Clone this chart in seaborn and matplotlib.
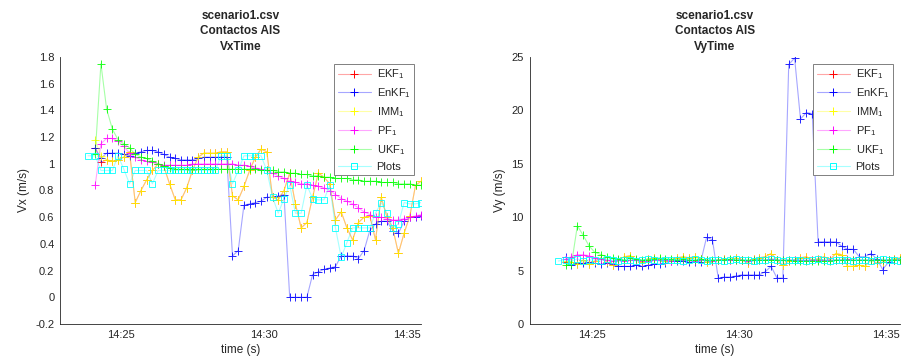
import matplotlib
matplotlib.use("Agg")
import matplotlib.pyplot as plt
import seaborn as sns
import pandas as pd
from matplotlib.lines import Line2D

# ---------------- data ----------------
# time in minutes after 14:00
time_min = [24.1, 24.3, 24.5, 24.7, 24.9, 25.1, 25.3, 25.5, 25.7, 25.9,
            26.1, 26.3, 26.5, 26.7, 26.9, 27.1, 27.3, 27.5, 27.7, 27.9,
            28.1, 28.3, 28.5, 28.7, 28.9, 29.1, 29.3, 29.5, 29.7, 29.9,
            30.1, 30.3, 30.5, 30.7, 30.9, 31.1, 31.3, 31.5, 31.7, 31.9,
            32.1, 32.3, 32.5, 32.7, 32.9, 33.1, 33.3, 33.5, 33.7, 33.9,
            34.1, 34.3, 34.5, 34.7, 34.9, 35.1, 35.3, 35.5]
plots_time_min = [23.85] + time_min

series_names = ["EKF$_1$", "EnKF$_1$", "IMM$_1$", "PF$_1$", "UKF$_1$", "Plots"]
series_colors = ["#ff0000", "#0000ff", "#ffff00", "#ff00ff", "#00ff00", "#00ffff"]

# Vx (m/s)
vx_ekf = [1.12, 1.01, 1.03, 1.02, 1.03, 1.05, 1.09, 0.71, 0.80, 0.88,
          0.95, 1.00, 0.98, 0.85, 0.73, 0.73, 0.82, 0.95, 1.05, 1.08,
          1.08, 1.08, 1.09, 1.09, 0.76, 0.73, 0.83, 0.95, 1.05, 1.11,
          1.09, 0.75, 0.73, 0.80, 0.93, 0.70, 0.52, 0.56, 0.75, 0.93,
          0.90, 0.85, 0.58, 0.64, 0.52, 0.43, 0.56, 0.60, 0.61, 0.43,
          0.75, 0.60, 0.52, 0.33, 0.48, 0.61, 0.84, 0.87]
vx_enkf = [1.12, 1.04, 1.08, 1.08, 1.08, 1.07, 1.06, 1.08, 1.09, 1.10,
           1.10, 1.09, 1.07, 1.05, 1.04, 1.03, 1.03, 1.03, 1.04, 1.05,
           1.05, 1.05, 1.05, 1.05, 0.31, 0.35, 0.69, 0.70, 0.71, 0.72,
           0.75, 0.75, 0.76, 0.77, 0.00, 0.00, 0.00, 0.00, 0.17, 0.19,
           0.21, 0.22, 0.23, 0.31, 0.31, 0.31, 0.29, 0.35, 0.50, 0.55,
           0.57, 0.57, 0.50, 0.48, 0.57, 0.60, 0.60, 0.61]
vx_imm = [1.18, 1.06, 1.03, 1.02, 1.03, 1.05, 1.09, 0.71, 0.80, 0.88,
          0.95, 1.00, 0.98, 0.85, 0.73, 0.73, 0.82, 0.95, 1.05, 1.08,
          1.08, 1.08, 1.09, 1.09, 0.76, 0.73, 0.83, 0.95, 1.05, 1.11,
          1.09, 0.75, 0.73, 0.80, 0.93, 0.70, 0.52, 0.56, 0.75, 0.93,
          0.90, 0.85, 0.58, 0.64, 0.52, 0.43, 0.56, 0.60, 0.61, 0.43,
          0.75, 0.60, 0.52, 0.33, 0.48, 0.61, 0.84, 0.87]
vx_pf = [0.84, 1.15, 1.19, 1.19, 1.17, 1.13, 1.08, 1.05, 1.03, 1.02,
         1.01, 1.00, 0.99, 0.99, 0.99, 0.99, 0.99, 1.00, 1.00, 1.00,
         1.00, 1.00, 1.00, 1.00, 1.00, 0.99, 0.99, 0.98, 0.97, 0.96,
         0.95, 0.93, 0.91, 0.89, 0.87, 0.86, 0.85, 0.85, 0.84, 0.83,
         0.82, 0.80, 0.77, 0.74, 0.72, 0.70, 0.67, 0.64, 0.62, 0.60,
         0.60, 0.59, 0.58, 0.58, 0.59, 0.60, 0.61, 0.62]
vx_ukf = [1.07, 1.75, 1.41, 1.26, 1.18, 1.15, 1.12, 1.07, 1.05, 1.04,
          1.02, 1.00, 0.98, 0.97, 0.96, 0.96, 0.96, 0.96, 0.96, 0.96,
          0.96, 0.96, 0.96, 0.96, 0.96, 0.96, 0.96, 0.96, 0.96, 0.95,
          0.95, 0.95, 0.94, 0.94, 0.93, 0.93, 0.92, 0.92, 0.91, 0.91,
          0.90, 0.90, 0.89, 0.89, 0.89, 0.88, 0.88, 0.87, 0.87, 0.87,
          0.86, 0.86, 0.86, 0.85, 0.85, 0.85, 0.84, 0.84]
vx_plots = [1.06,
            1.06, 0.95, 0.95, 0.95, 1.06, 0.96, 0.85, 0.95, 0.95, 0.95,
            0.85, 0.95, 0.95, 0.95, 0.95, 0.95, 0.95, 0.95, 0.95, 0.95,
            0.95, 0.95, 1.06, 1.06, 0.85, 0.95, 1.06, 1.06, 1.06, 1.06,
            0.95, 0.75, 0.63, 0.74, 0.84, 0.63, 0.63, 0.84, 0.74, 0.73,
            0.73, 0.84, 0.52, 0.30, 0.41, 0.52, 0.52, 0.52, 0.52, 0.63,
            0.71, 0.63, 0.52, 0.55, 0.71, 0.70, 0.70, 0.71]

# Vy (m/s)
vy_ekf = [5.8, 5.8, 5.6, 6.0, 5.6, 5.9, 6.2, 5.8, 5.5, 6.0,
          6.3, 6.4, 6.0, 5.8, 6.1, 6.2, 6.1, 5.9, 6.0, 6.2,
          6.3, 6.2, 6.3, 6.1, 5.8, 5.9, 6.0, 6.1, 6.0, 6.2,
          6.0, 5.7, 6.1, 6.2, 6.3, 6.6, 6.0, 5.5, 5.9, 6.0,
          6.2, 6.3, 6.0, 6.1, 6.3, 6.0, 6.6, 6.5, 5.4, 5.4,
          5.5, 5.4, 6.0, 5.7, 5.8, 6.0, 6.1, 6.2]
vy_enkf = [6.3, 5.5, 5.7, 5.7, 5.8, 5.7, 5.6, 5.7, 5.6, 5.4,
           5.4, 5.4, 5.5, 5.4, 5.5, 5.6, 5.6, 5.7, 5.9, 5.9,
           5.9, 5.8, 5.8, 5.8, 8.1, 7.9, 4.3, 4.4, 4.4, 4.5,
           4.6, 4.6, 4.6, 4.6, 4.9, 5.4, 4.3, 4.3, 24.3, 24.9,
           19.2, 19.8, 19.7, 7.7, 7.7, 7.7, 7.7, 7.3, 7.0, 7.0,
           6.3, 6.3, 6.6, 6.1, 5.1, 5.8, 6.0, 6.0]
vy_imm = [5.9, 5.8, 5.6, 6.0, 5.6, 5.9, 6.2, 5.8, 5.5, 6.0,
          6.3, 6.4, 6.0, 5.8, 6.1, 6.2, 6.1, 5.9, 6.0, 6.2,
          6.3, 6.2, 6.3, 6.1, 5.8, 5.9, 6.0, 6.1, 6.0, 6.2,
          6.0, 5.7, 6.1, 6.2, 6.3, 6.6, 6.0, 5.5, 5.9, 6.0,
          6.2, 6.3, 6.0, 6.1, 6.3, 6.0, 6.6, 6.5, 5.4, 5.4,
          5.5, 5.4, 6.0, 5.7, 5.8, 6.0, 6.1, 6.2]
vy_pf = [6.1, 6.3, 6.5, 6.5, 6.4, 6.2, 6.1, 6.0, 5.9, 6.0,
         5.9, 6.0, 6.0, 5.9, 5.9, 6.0, 6.0, 6.0, 5.9, 6.0,
         6.0, 6.0, 5.9, 6.0, 6.0, 5.9, 6.0, 6.0, 6.0, 6.0,
         6.0, 5.9, 6.0, 6.0, 6.0, 6.1, 6.0, 6.0, 6.0, 6.0,
         6.0, 6.0, 6.0, 6.0, 6.0, 6.0, 6.0, 6.0, 6.1, 6.0,
         6.0, 6.0, 6.0, 6.0, 6.0, 6.0, 6.0, 6.0]
vy_ukf = [5.5, 5.6, 9.2, 8.3, 7.3, 6.7, 6.5, 6.3, 6.2, 6.1,
          6.0, 6.2, 6.1, 6.0, 6.0, 6.1, 6.2, 6.1, 6.1, 6.0,
          6.1, 6.0, 6.0, 6.1, 6.0, 6.0, 6.0, 6.0, 6.1, 6.0,
          6.0, 6.0, 6.0, 6.0, 6.0, 6.0, 6.0, 6.0, 6.0, 5.9,
          5.9, 5.9, 5.9, 5.9, 5.9, 5.9, 6.0, 6.0, 6.0, 6.0,
          6.0, 6.0, 6.0, 6.0, 6.0, 6.0, 6.0, 6.0]
vy_plots = [5.9,
            6.0, 5.9, 6.1, 5.9, 6.0, 6.0, 5.9, 6.1, 6.0, 5.9,
            6.0, 6.0, 5.9, 6.0, 6.1, 6.0, 5.9, 6.0, 6.0, 6.0,
            5.9, 6.0, 6.1, 6.0, 5.9, 6.0, 6.0, 5.9, 6.0, 6.1,
            6.0, 6.0, 5.9, 6.0, 6.0, 6.1, 6.0, 5.9, 6.0, 6.0,
            6.0, 5.9, 6.0, 6.1, 6.0, 5.9, 6.0, 6.0, 6.0, 5.9,
            6.0, 6.0, 5.9, 6.0, 6.1, 6.0, 6.0, 5.9]

x_tick_pos = [25, 30, 35]
x_tick_labels = ["14:25", "14:30", "14:35"]
vx_ticks = [-0.2, 0, 0.2, 0.4, 0.6, 0.8, 1.0, 1.2, 1.4, 1.6, 1.8]
vx_tick_labels = ["-0.2", "0", "0.2", "0.4", "0.6", "0.8", "1", "1.2", "1.4", "1.6", "1.8"]
vy_ticks = [0, 5, 10, 15, 20, 25]
vy_tick_labels = ["0", "5", "10", "15", "20", "25"]

# ---------------- style ----------------
sns.set_style("white")
plt.rcParams["font.family"] = ["Liberation Sans", "DejaVu Sans"]
plt.rcParams["mathtext.fontset"] = "custom"
plt.rcParams["mathtext.rm"] = "Liberation Sans"
plt.rcParams["mathtext.it"] = "Liberation Sans:italic"
plt.rcParams["mathtext.bf"] = "Liberation Sans:bold"

AX_COLOR = "#262626"
MS_PLUS = 5.2
MS_SQ = 4.2

fig = plt.figure(figsize=(9.02, 3.63), dpi=100)
axL = fig.add_axes([60 / 902, 39 / 363, 361 / 902, 267 / 363])
axR = fig.add_axes([529.5 / 902, 39 / 363, 370.5 / 902, 267 / 363])


def draw(ax, filt_series, plots_series, title, ylabel, yticks, ylabels, ylim):
    for name, col, vals in zip(series_names[:5], series_colors[:5], filt_series):
        df = pd.DataFrame({"t": time_min, "v": vals})
        sns.lineplot(data=df, x="t", y="v", color=col, alpha=0.35, lw=0.8,
                     estimator=None, ax=ax)
        sns.lineplot(data=df, x="t", y="v", color=col, estimator=None, ax=ax,
                     linestyle="none", marker="+", markersize=MS_PLUS,
                     markeredgewidth=0.7, markeredgecolor=col, alpha=0.85)
    dfp = pd.DataFrame({"t": plots_time_min, "v": plots_series})
    col = series_colors[5]
    sns.lineplot(data=dfp, x="t", y="v", color=col, alpha=0.35, lw=0.8,
                 estimator=None, ax=ax)
    sns.lineplot(data=dfp, x="t", y="v", color=col, estimator=None, ax=ax,
                 linestyle="none", marker="s", markersize=MS_SQ,
                 markerfacecolor="none", markeredgewidth=0.7,
                 markeredgecolor=col, alpha=0.85)

    ax.set_xlim(22.87, 35.49)
    ax.set_ylim(*ylim)
    ax.set_xticks(x_tick_pos)
    ax.set_xticklabels(x_tick_labels)
    ax.set_yticks(yticks)
    ax.set_yticklabels(ylabels)
    ax.tick_params(direction="in", length=3, width=0.6, colors=AX_COLOR,
                   labelsize=8, pad=4)
    for s in ["top", "right"]:
        ax.spines[s].set_visible(False)
    for s in ["left", "bottom"]:
        ax.spines[s].set_color(AX_COLOR)
        ax.spines[s].set_linewidth(0.6)
    ax.set_xlabel("time (s)", fontsize=8.5, color=AX_COLOR, labelpad=3)
    ax.set_ylabel(ylabel, fontsize=8.5, color=AX_COLOR, labelpad=4)
    ax.set_title(title, fontsize=8.5, fontweight="bold", linespacing=1.4,
                 pad=5)

    handles = []
    for name, c in zip(series_names, series_colors):
        r, g, b = matplotlib.colors.to_rgb(c)
        if name == "Plots":
            h = Line2D([], [], color=(r, g, b, 0.35), lw=0.8, marker="s",
                       markersize=MS_SQ, markerfacecolor="none",
                       markeredgecolor=c, markeredgewidth=0.7)
        else:
            h = Line2D([], [], color=(r, g, b, 0.35), lw=0.8, marker="+",
                       markersize=MS_PLUS, markeredgecolor=c,
                       markeredgewidth=0.7)
        handles.append(h)
    leg = ax.legend(handles, series_names, loc="upper right", fontsize=8,
                    frameon=True, fancybox=False, framealpha=1,
                    edgecolor="#808080", handlelength=3.0, handletextpad=0.5,
                    labelspacing=0.45, borderpad=0.35, borderaxespad=0.6)
    leg.get_frame().set_linewidth(0.7)


draw(axL, [vx_ekf, vx_enkf, vx_imm, vx_pf, vx_ukf], vx_plots,
     "scenario1.csv\nContactos AIS\nVxTime", "Vx (m/s)",
     vx_ticks, vx_tick_labels, (-0.2, 1.8))
draw(axR, [vy_ekf, vy_enkf, vy_imm, vy_pf, vy_ukf], vy_plots,
     "scenario1.csv\nContactos AIS\nVyTime", "Vy (m/s)",
     vy_ticks, vy_tick_labels, (0, 25))

fig.savefig("out.png", dpi=100)
